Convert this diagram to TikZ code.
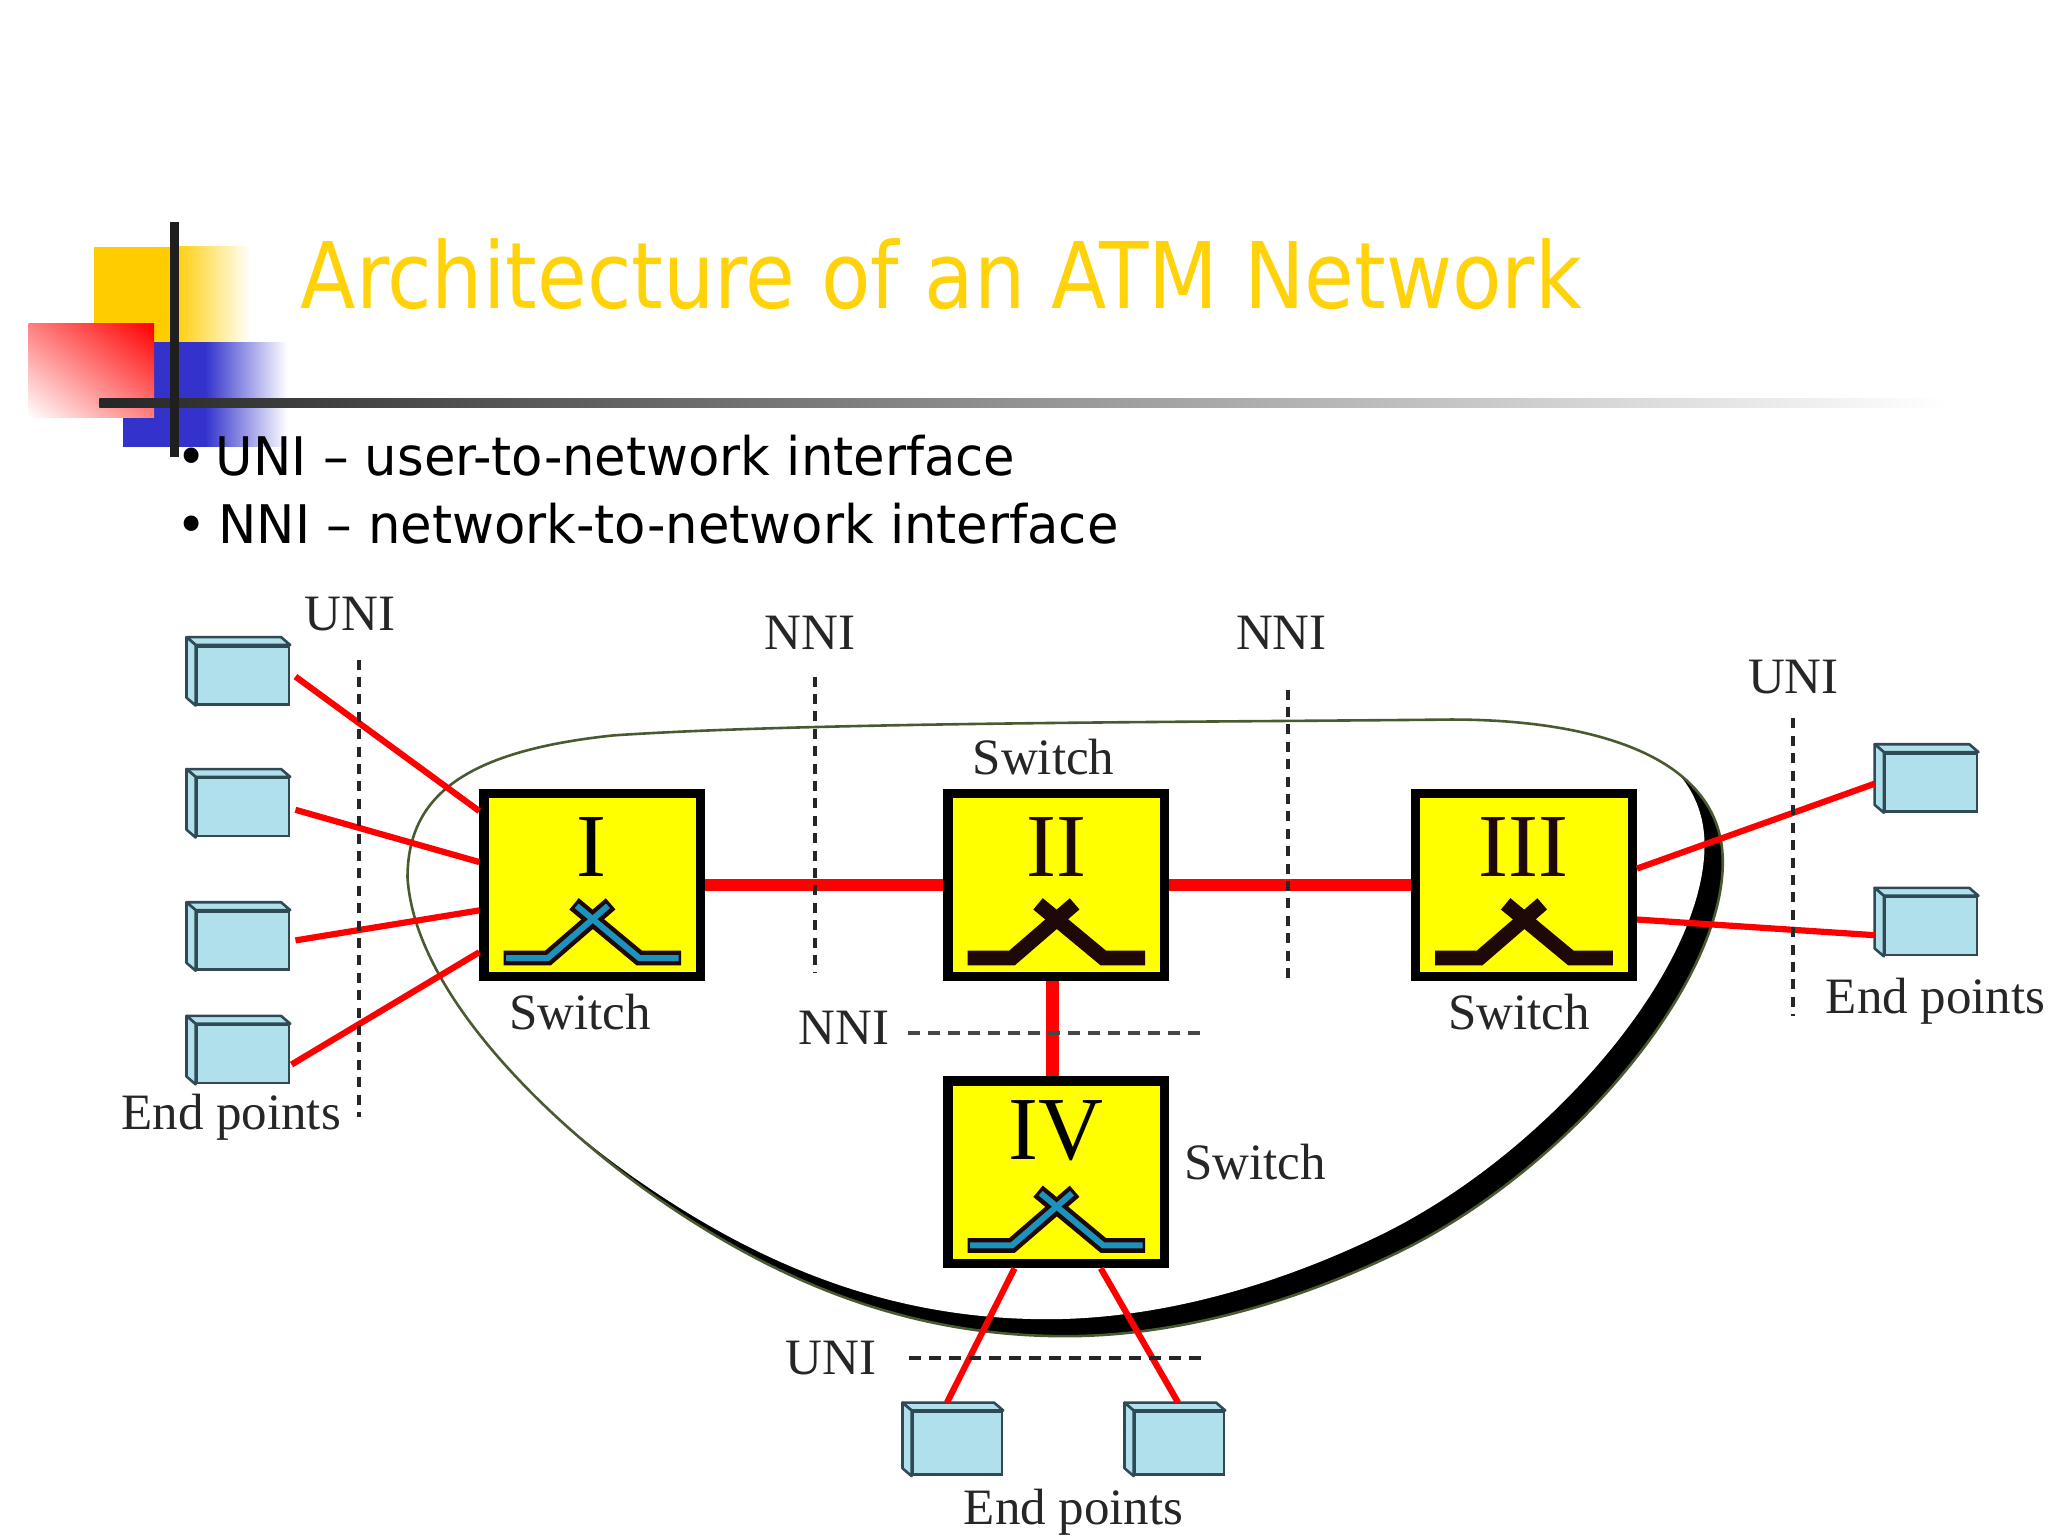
\documentclass[tikz,border=0pt]{standalone}
\usepackage{fontspec}
\setmainfont{Liberation Serif}
\newfontfamily\titlefont[FakeStretch=0.977]{DejaVu Sans Condensed}
\newfontfamily\bulletfont[FakeStretch=1.07]{DejaVu Sans Condensed}
\usetikzlibrary{calc,positioning,shadings}
\definecolor{titleyellow}{HTML}{FFD20A}
\definecolor{blockyellow}{HTML}{FFCC00}
\definecolor{switchyellow}{HTML}{FFFF00}
\definecolor{barblue}{HTML}{3333CC}
\definecolor{boxblue}{HTML}{B0E0EB}
\definecolor{boxedge}{HTML}{2F4A55}
\definecolor{markblue}{HTML}{1C93BC}
\definecolor{markdark}{HTML}{1E0808}
\definecolor{blobolive}{HTML}{4A5A30}

% outline of the network cloud
\newcommand{\cloudpath}{(312,672)
    .. controls (312,610) and (355,575) .. (470,563)
    .. controls (620,553) and (900,553) .. (1100,551)
    .. controls (1210,549) and (1319,575) .. (1319,660)
    .. controls (1319,755) and (1200,895) .. (1072,958)
    .. controls (990,998) and (900,1023) .. (816,1023)
    .. controls (700,1023) and (600,985) .. (500,915)
    .. controls (430,866) and (318,765) .. (312,672) -- cycle}

% end point box: front face is the node, side faces are drawn around it
\newcommand{\pointbox}[3][]{
    \node[endpoint, #1] (#2) at (#3) {};
    \draw[boxface] (#2.north west) -- ++(-7,-6) -- ($(#2.north east)+(-7,-6)$) -- (#2.north east) -- cycle;
    \draw[boxface] (#2.north west) -- ++(-7,-6) -- ($(#2.south west)+(-7,-6)$) -- (#2.south west) -- cycle;
}

% crossed mark at the bottom of a switch
\newcommand{\switchmark}[2]{
    \begin{scope}[shift={(#1.center)}]
        \draw[markedge] (-68,56) -- (-34,56) -- (14,14.5);
        \draw[markedge] (68,56) -- (36,56) -- (-14,14.5);
        \draw[markcore, draw=#2] (-66,56) -- (-34,56) -- (12,16);
        \draw[markcore, draw=#2] (66,56) -- (36,56) -- (-12,16);
    \end{scope}
}

\begin{document}
\begin{tikzpicture}[
        x=0.65306pt, y=-0.65306pt,
        switchbox/.style={draw=black, fill=switchyellow, line width=4.6pt, minimum width=108.4pt, minimum height=91.4pt},
        endpoint/.style={draw=boxedge, fill=boxblue, line width=1.3pt, minimum width=46pt, minimum height=29pt, inner sep=0pt},
        boxface/.style={draw=boxedge, fill=boxblue, line width=1.3pt, line join=round},
        markedge/.style={draw=markdark, line width=7.4pt},
        markcore/.style={line width=3pt},
        numeral/.style={font=\fontsize{45}{45}\selectfont, text=markdark, inner sep=0pt},
        caption/.style={font=\fontsize{25.5}{26}\selectfont, text=black!85, anchor=base, inner sep=0pt},
        link/.style={draw=red, line width=3.1pt},
        trunk/.style={draw=red, line width=6.4pt},
        dashline/.style={draw=black!85, line width=1.9pt, dash pattern=on 5pt off 3.7pt},
        dashwide/.style={draw=black!72, line width=2pt, dash pattern=on 6pt off 4pt},
    ]
    \useasboundingbox (0,0) rectangle (1568,1176);

    % Slide decoration
    \fill[blockyellow] (72,189) rectangle (132,262);
    \shade[left color=blockyellow, right color=white] (132,189) rectangle (192,262);
    \fill[barblue] (94,262) rectangle (157,342);
    \shade[left color=barblue, right color=white] (157,262) rectangle (220,342);
    \shade[lower left=white, upper right=red, upper left=red!50!white, lower right=red!50!white] (22,248) rectangle (118,320);
    \shade[left color=black!85, right color=white] (76,305) rectangle (1490,312);
    \fill[black!88] (130,170) rectangle (137,350);

    % Title and bullets
    \node[anchor=base west, inner sep=0pt, font=\titlefont\fontsize{46}{46}\selectfont, text=titleyellow] (title) at (230,236) {Architecture of an ATM Network};
    \node[anchor=base west, inner sep=0pt, font=\bulletfont\fontsize{26.6}{27}\selectfont] (uniline) at (135,364) {•\hspace{4.5pt}UNI – user-to-network interface};
    \node[anchor=base west, inner sep=0pt, font=\bulletfont\fontsize{26.6}{27}\selectfont] (nniline) at (135,416) {•\hspace{5.8pt}NNI – network-to-network interface};

    % Cloud
    \begin{scope}
        \clip \cloudpath;
        \fill[black] \cloudpath;
        \fill[white, shift={(-14,-13)}] \cloudpath;
    \end{scope}
    \draw[blobolive, line width=1.3pt] \cloudpath;

    % Switches
    \node[switchbox] (one) at (453.5,677.5) {};
    \node[switchbox, right=119pt of one] (two) {};
    \node[switchbox, right=120.8pt of two] (three) {};
    \node[switchbox, below=47.7pt of two] (four) {};

    \node[numeral, text=black] (onenum) at ([shift={(-1,-29)}]one.center) {I};
    \node[numeral] (twonum) at ([shift={(0,-29)}]two.center) {II};
    \node[numeral] (threenum) at ([shift={(0,-29)}]three.center) {III};
    \node[numeral, text=black] (fournum) at ([shift={(0,-32)}]four.center) {IV};

    \switchmark{one}{markblue}
    \switchmark{two}{markdark}
    \switchmark{three}{markdark}
    \switchmark{four}{markblue}

    % End points
    \pointbox{epa}{186,517}
    \pointbox{epb}{186,618}
    \pointbox{epc}{186,720}
    \pointbox{epd}{186,807}
    \pointbox{epe}{1478.5,599}
    \pointbox{epf}{1478.5,709}
    \pointbox[minimum width=44.5pt, minimum height=31.5pt]{epg}{733,1105}
    \pointbox[minimum width=44.5pt, minimum height=31.5pt]{eph}{903,1105}

    % Lines
    \draw[link] ([shift={(4,1)}]epa.east) -- ([shift={(0,-56.5)}]one.west);
    \draw[link] ([shift={(4,2)}]epb.east) -- ([shift={(0,-17.5)}]one.west);
    \draw[link] ([shift={(4,0)}]epc.east) -- ([shift={(0,19.5)}]one.west);
    \draw[link] ([shift={(1,8)}]epd.east) -- ([shift={(0,51.5)}]one.west);
    \draw[link] ([shift={(0,-12.5)}]three.east) -- ([shift={(-7,1)}]epe.west);
    \draw[link] ([shift={(0,26.5)}]three.east) -- ([shift={(-7,7)}]epf.west);
    \draw[link] ([shift={(-32,0)}]four.south) -- ([shift={(-8,-6)}]epg.north);
    \draw[link] ([shift={(34,0)}]four.south) -- ([shift={(-1,-6)}]eph.north);
    \draw[trunk] (one) -- (two);
    \draw[trunk] (two) -- (three);
    \draw[trunk] ([shift={(-3,0)}]two.south) -- ([shift={(-3,0)}]four.north);

    % Interface boundaries
    \coordinate (unilefttop) at (275,505);
    \coordinate (unileftend) at (275,855);
    \coordinate (nnilefttop) at (624,518);
    \coordinate (nnileftend) at (624,745);
    \coordinate (nnirighttop) at (986,528);
    \coordinate (nnirightend) at (986,752);
    \coordinate (unirighttop) at (1373,550);
    \coordinate (unirightend) at (1373,778);
    \coordinate (nnimidstart) at (695,791);
    \coordinate (nnimidend) at (920,791);
    \coordinate (unibotstart) at (696,1040);
    \coordinate (unibotend) at (922,1040);
    \draw[dashline] (unilefttop) -- (unileftend);
    \draw[dashline] (nnilefttop) -- (nnileftend);
    \draw[dashline] (nnirighttop) -- (nnirightend);
    \draw[dashline] (unirighttop) -- (unirightend);
    \draw[dashwide] (nnimidstart) -- (nnimidend);
    \draw[dashline, dash pattern=on 6pt off 4pt] (unibotstart) -- (unibotend);

    % Labels
    \node[caption] (unia) at (268,483) {UNI};
    \node[caption] (nnia) at (620,497) {NNI};
    \node[caption] (nnib) at (981,497) {NNI};
    \node[caption] (unib) at (1373,531) {UNI};
    \node[caption] (nnic) at (646,800) {NNI};
    \node[caption] (unic) at (636,1052) {UNI};
    \node[caption] (swone) at (444,788) {Switch};
    \node[caption] (swtwo) at (799,593) {Switch};
    \node[caption] (swthree) at (1163,788) {Switch};
    \node[caption] (swfour) at (961,903) {Switch};
    \node[caption] (enda) at (177,865) {End points};
    \node[caption] (endb) at (1482,776) {End points};
    \node[caption] (endc) at (822,1167) {End points};

\end{tikzpicture}
\end{document}
